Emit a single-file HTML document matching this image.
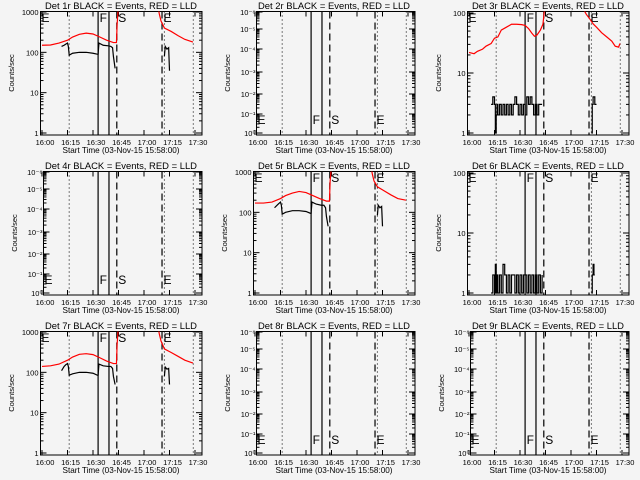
<!DOCTYPE html>
<html><head><meta charset="utf-8"><style>
html,body{margin:0;padding:0;background:#f4f4f4;}
svg{display:block;font-family:"Liberation Sans",sans-serif;}
</style></head><body>
<svg id="chart" width="640" height="480" viewBox="0 0 640 480"></svg>
<script>
// ---- data (minutes after 16:00, counts/sec) ----
const tickLabels = ["16:00","16:15","16:30","16:45","17:00","17:15","17:30"];
const tickMinutes = [0,15,30,45,60,75,90];
const solidMarks = [33, 39.4];
const dashedMarks = [44, 70.6];
const dottedMarks = [16, 72, 89];
const decLabelsC = ["10\u207B\u2076","10\u207B\u2075","10\u207B\u2074","10\u207B\u00B3","10\u207B\u00B2","10\u207B\u00B9","10\u2070"];

const red1T = [0,5,10,15,18,22,26,30,34,38,42,43.8,44.2,44.6,45, 68,69,70,72,76,80,84,88.8];
const red1V = [150,152,170,200,240,280,300,285,240,200,175,175,500,900,1500, 1500,900,600,400,330,260,210,180];
const blk1aT = [11.5,13,14,15,15.5,16,18,22,26,30,32.5,33,33.5,36,39,40.5,41.5,42,43];
const blk1aV = [140,150,160,170,140,85,95,100,100,95,90,90,170,150,145,140,130,80,40];
const blk1bT = [72,72.5,73.5,74.5,75];
const blk1bV = [80,140,120,130,35];

const red5T = [0,5,10,15,18,22,26,30,34,38,42,43.8,44.2,44.6,45, 68,69,70,72,76,80,84,88.8];
const red5V = [170,170,180,220,260,300,330,310,260,220,190,190,600,900,1500, 1500,900,600,430,340,270,220,200];
const blk5aT = [11.5,13,14,15,15.5,16,18,22,26,30,32.5,33,33.5,36,39,40.5,41.5,42,43];
const blk5aV = [130,150,165,180,150,90,100,110,110,105,95,95,180,160,150,150,130,80,45];
const blk5bT = [72,72.5,73.5,74.5,75];
const blk5bV = [85,150,130,140,45];

const red7T = [0,5,10,15,18,22,26,30,34,38,42,43.8,44.2,44.6,45, 68,69,70,72,76,80,84,88.8];
const red7V = [140,145,160,200,240,280,290,275,230,190,165,165,500,900,1500, 1500,900,600,380,310,250,200,170];
const blk7aT = [11.5,13,14,15,15.5,16,18,22,26,30,32.5,33,33.5,36,39,40.5,41.5,42,43];
const blk7aV = [110,140,155,165,140,85,92,100,100,95,85,85,160,145,140,140,125,80,50];
const blk7bT = [72,72.5,73.5,74.5,75];
const blk7bV = [80,135,120,125,50];

const red3T = [0,3,5,8,10,13,15,17,19,22,25,28,31,33,35,37,38.5,40,42,43.5,44.5, 67,69,71,73,75,78,81,84,86,88,88.8];
const red3V = [22,21,23,25,28,31,38,40,52,58,65,65,64,62,55,46,41,43,52,65,120, 120,95,80,66,58,47,40,34,28,27,31];
const blk3T = [13,14,15,15.5,16,16.5,17,18,19,20,21,22,23,24,25,26,27,28,29,30,31,32,33,34,35,36,37,38,39,40,41,42,43];
const blk3V = [3,4,3,1,2,3,2,3,2,3,2,3,2,3,2,3,4,3,2,3,2,3,2,4,3,4,3,2,3,2,3,3,3];
const blk3bT = [72,72.5,73,74,75];
const blk3bV = [1,3,4,3,3];

const blk6T = [13,14,15,15.5,16,16.5,17,18,19,20,21,22,23,24,25,26,27,28,29,30,31,32,33,34,35,36,37,38,39,40,41,42,43];
const blk6V = [1,2,1,3,1,2,1,2,1,3,2,1,2,1,2,2,1,2,1,2,1,2,2,1,2,1,2,1,2,1,2,1,2];
const blk6bT = [72,72.5,73,73.5,74];
const blk6bV = [1,2,3,2,2];

const panels = [
 {id:1,type:'A',red:[red1T,red1V],blk:[[blk1aT,blk1aV],[blk1bT,blk1bV]]},
 {id:2,type:'C'},
 {id:3,type:'B',red:[red3T,red3V],blk:[[blk3T,blk3V],[blk3bT,blk3bV]],step:true},
 {id:4,type:'C'},
 {id:5,type:'A',red:[red5T,red5V],blk:[[blk5aT,blk5aV],[blk5bT,blk5bV]]},
 {id:6,type:'B',blk:[[blk6T,blk6V],[blk6bT,blk6bV]],step:true},
 {id:7,type:'A',red:[red7T,red7V],blk:[[blk7aT,blk7aV],[blk7bT,blk7bV]]},
 {id:8,type:'C'},
 {id:9,type:'C'}
];

const NS="http://www.w3.org/2000/svg";
const svg=document.getElementById('chart');
function mk(tag,attrs,parent){const e=document.createElementNS(NS,tag);for(const k in attrs)e.setAttribute(k,attrs[k]);(parent||svg).appendChild(e);return e;}

panels.forEach((p,i)=>{
  const ox=Math.round((i%3)*213.33), oy=(Math.floor(i/3))*160;
  const g=mk('g',{transform:`translate(${ox},${oy})`});
  
  
  const x0=p.type==='C'?43.5:40.5, x1=202, y0=11.5, y1=135;
  const xs=t=>42+1.7*t;
  let ys;
  if(p.type==='A') ys=v=>133-40.33*Math.log10(v);
  else if(p.type==='B') ys=v=>133-60*Math.log10(v);
  else ys=v=>133;
  const tt=mk('text',{x:121,y:9,'font-size':9.5,'text-anchor':'middle',fill:'#000',textLength:152,lengthAdjust:'spacingAndGlyphs'},g);
  tt.textContent=`Det ${p.id}r BLACK = Events, RED = LLD`;
  
  
  const yt=mk('text',{x:0,y:0,'font-size':7.5,'text-anchor':'middle',transform:`translate(${p.type==='C'?17:14},73) rotate(-90)`},g);
  yt.textContent='Counts/sec';
  
  
  const xt=mk('text',{x:121,y:153,'font-size':8.5,'text-anchor':'middle',textLength:117,lengthAdjust:'spacingAndGlyphs'},g);
  xt.textContent='Start Time (03-Nov-15 15:58:00)';
  
  
  const box=mk('rect',{x:x0,y:y0,width:x1-x0,height:y1-y0,fill:'none',stroke:'#000','stroke-width':1},g);
  
  
  tickMinutes.forEach((m,k)=>{
    const x=xs(m);
    mk('line',{x1:x,x2:x,y1:y1,y2:y1-5,stroke:'#000'},g);
    mk('line',{x1:x,x2:x,y1:y0,y2:y0+5,stroke:'#000'},g);
    const tl=mk('text',{x:x+3,y:y1+10,'font-size':7.5,'text-anchor':'middle'},g);
    tl.textContent=tickLabels[k];
    
    
  });
  if(p.type!=='C'){
    const decs=p.type==='A'?[1,10,100,1000]:[1,10,100];
    decs.forEach((d,k)=>{
      const y=ys(d);
      mk('line',{x1:x0,x2:x0+6,y1:y,y2:y,stroke:'#000'},g);
      mk('line',{x1:x1,x2:x1-6,y1:y,y2:y,stroke:'#000'},g);
      const yl=mk('text',{x:x0-2,y:y+3,'font-size':7.5,'text-anchor':'end'},g);
      yl.textContent=String(d);
      
      
      if(k<decs.length-1) for(let m=2;m<10;m++){const yy=ys(d*m);
        mk('line',{x1:x0,x2:x0+3,y1:yy,y2:yy,stroke:'#000'},g);
        mk('line',{x1:x1,x2:x1-3,y1:yy,y2:yy,stroke:'#000'},g);}
    });
  } else {
    const pos=[12,29,49,72,94,114,133];
    pos.forEach((y,k)=>{
      mk('line',{x1:x0,x2:x0+6,y1:y,y2:y,stroke:'#000'},g);
      mk('line',{x1:x1,x2:x1-6,y1:y,y2:y,stroke:'#000'},g);
      const yl=mk('text',{x:x0-1,y:y+3,'font-size':7.5,'text-anchor':'end'},g);
      yl.textContent=decLabelsC[k];
      
      
      if(k<pos.length-1){const n=pos[k+1];for(let m=2;m<10;m++){const yy=n-(n-y)*Math.log10(m);
        mk('line',{x1:x0,x2:x0+3,y1:yy,y2:yy,stroke:'#000'},g);
        mk('line',{x1:x1,x2:x1-3,y1:yy,y2:yy,stroke:'#000'},g);}}
    });
  }
  solidMarks.forEach(m=>{const l=mk('line',{x1:xs(m),x2:xs(m),y1:y0,y2:y1,stroke:'#000','stroke-width':1.2},g);
    });
  dashedMarks.forEach(m=>{const l=mk('line',{x1:xs(m),x2:xs(m),y1:y0,y2:y1,stroke:'#000','stroke-width':1.2,'stroke-dasharray':'7,4'},g);
    });
  dottedMarks.forEach(m=>{const l=mk('line',{x1:xs(m),x2:xs(m),y1:y0,y2:y1,stroke:'#000','stroke-width':1,'stroke-dasharray':'1,3'},g);
    });
  const ly=p.type==='C'?124:22;
  [['E',x0+1],['F',xs(solidMarks[0])+1.5],['S',xs(dashedMarks[0])+1.5],['E',xs(dashedMarks[1])+1.5]].forEach(([c,x])=>{
    const t=mk('text',{x:x,y:ly,'font-size':12},g);t.textContent=c;
    });
  const cid='clip'+p.id;
  const cp=mk('clipPath',{id:cid},g);mk('rect',{x:x0,y:y0,width:x1-x0,height:y1-y0},cp);
  const path=(T,V,step)=>{let d='';T.forEach((t,k)=>{const x=xs(t),y=ys(V[k]);
    if(k===0)d+=`M${x},${y}`;else if(step)d+=`H${x}V${y}`;else d+=`L${x},${y}`;});return d;};
  if(p.red){const r=mk('path',{d:path(p.red[0],p.red[1],false),fill:'none',stroke:'#ff0000','stroke-width':1.2,'clip-path':`url(#${cid})`},g);
    }
  if(p.blk)p.blk.forEach(s=>{const b=mk('path',{d:path(s[0],s[1],p.step),fill:'none',stroke:'#000','stroke-width':1.2,'clip-path':`url(#${cid})`},g);
    });
});
</script>
</body></html>
